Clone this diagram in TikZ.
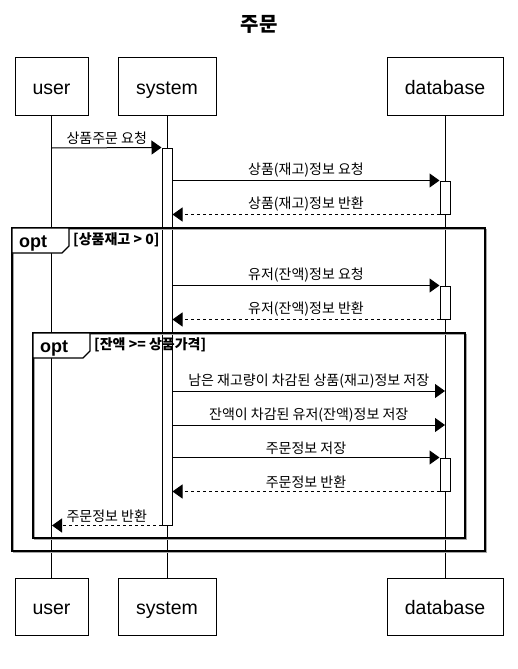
\documentclass[tikz,border=0pt]{standalone}
\usepackage{fontspec}
\setmainfont{Liberation Sans}
\newfontfamily\kr{Noto Sans CJK KR}
\usetikzlibrary{arrows.meta, positioning}

\begin{document}
\begin{tikzpicture}[
        x=1pt, y=-1pt,
        actor/.style={
            rectangle, draw=black, fill=white, line width=1pt,
            minimum height=57pt, inner sep=0pt, text height=16pt, text depth=0pt,
            font=\fontsize{19.5}{22}\selectfont
        },
        act/.style={
            rectangle, draw=black, fill=white, line width=1pt,
            minimum width=10pt, minimum height=33pt, inner sep=0pt
        },
        lifeline/.style={line width=1pt},
        msg/.style={-{Triangle[length=10pt, width=14pt]}, line width=1pt},
        ret/.style={msg, dash pattern=on 3pt off 3pt},
        lbl/.style={font=\kr\fontsize{14}{16}\selectfont, inner sep=0.5pt, above=2pt},
        frame/.style={draw=black, line width=1.6pt},
        frameshadow/.style={draw=black!35, line width=1.6pt},
        tab/.style={draw=black, fill=white, line width=1.2pt},
        optlbl/.style={font=\bfseries\fontsize{18}{20}\selectfont, inner sep=0pt, anchor=base west},
        cond/.style={font=\kr\bfseries\fontsize{14}{16}\selectfont, inner sep=0pt, anchor=base west}
    ]
        \useasboundingbox (0,0) rectangle (518,669);

        % Title
        \node[font=\kr\bfseries\fontsize{20}{22}\selectfont] (title) at (259,24) {주문};

        % Participants
        \node[actor, minimum width=73pt] (user) at (51.5,86.5) {user};
        \node[actor, minimum width=98pt] (sys) at (167,86.5) {system};
        \node[actor, minimum width=116pt] (db) at (445,86.5) {database};

        \node[actor, minimum width=73pt] (userB) at (51.5,606.5) {user};
        \node[actor, minimum width=98pt] (sysB) at (167,606.5) {system};
        \node[actor, minimum width=116pt] (dbB) at (445,606.5) {database};

        % Lifelines
        \draw[lifeline] (user) -- (userB);
        \draw[lifeline] (sys) -- (sysB);
        \draw[lifeline] (db) -- (dbB);

        % Activations
        \node[act, minimum height=377pt] (sysact) at (167,336.5) {};
        \node[act] (dbact1) at (445,197.5) {};
        \node[act] (dbact2) at (445,302.5) {};
        \node[act] (dbact3) at (445,474.5) {};

        % Outer opt frame
        \draw[frameshadow] (13.5,229.5) rectangle (486.5,552.5);
        \draw[frame] (12,228) rectangle (485,551);
        \draw[tab] (12,228) -- (69,228) -- (69,246) -- (62,253) -- (12,253) -- cycle;
        \node[optlbl] (opt1) at (19,247) {opt};
        \node[cond] (cond1) at (73,244) {[상품재고 > 0]};

        % Inner opt frame
        \draw[frameshadow] (34.5,334.5) rectangle (466.5,539.5);
        \draw[frame] (33,333) rectangle (465,538);
        \draw[tab] (33,333) -- (90,333) -- (90,351) -- (83,358) -- (33,358) -- cycle;
        \node[optlbl] (opt2) at (40,352) {opt};
        \node[cond] (cond2) at (94,349) {[잔액 >= 상품가격]};

        % Messages
        \coordinate (u1) at (52,148);
        \coordinate (d6) at (445,391);
        \coordinate (d7) at (445,425);

        \draw[msg] (u1) -- (sysact.north west) node[lbl, midway] {상품주문 요청};
        \draw[msg] (sysact.east |- dbact1.north) -- (dbact1.north west) node[lbl, midway] {상품(재고)정보 요청};
        \draw[ret] (dbact1.south west) -- (sysact.east |- dbact1.south) node[lbl, midway] {상품(재고)정보 반환};

        \draw[msg] (sysact.east |- dbact2.north) -- (dbact2.north west) node[lbl, midway] {유저(잔액)정보 요청};
        \draw[ret] (dbact2.south west) -- (sysact.east |- dbact2.south) node[lbl, midway] {유저(잔액)정보 반환};

        \draw[msg] (sysact.east |- d6) -- (d6) node[lbl, midway] {남은 재고량이 차감된 상품(재고)정보 저장};
        \draw[msg] (sysact.east |- d7) -- (d7) node[lbl, midway] {잔액이 차감된 유저(잔액)정보 저장};
        \draw[msg] (sysact.east |- dbact3.north) -- (dbact3.north west) node[lbl, midway] {주문정보 저장};
        \draw[ret] (dbact3.south west) -- (sysact.east |- dbact3.south) node[lbl, midway] {주문정보 반환};

        \draw[ret] (sysact.south west) -- (u1 |- sysact.south) node[lbl, midway] {주문정보 반환};

    \end{tikzpicture}
\end{document}
